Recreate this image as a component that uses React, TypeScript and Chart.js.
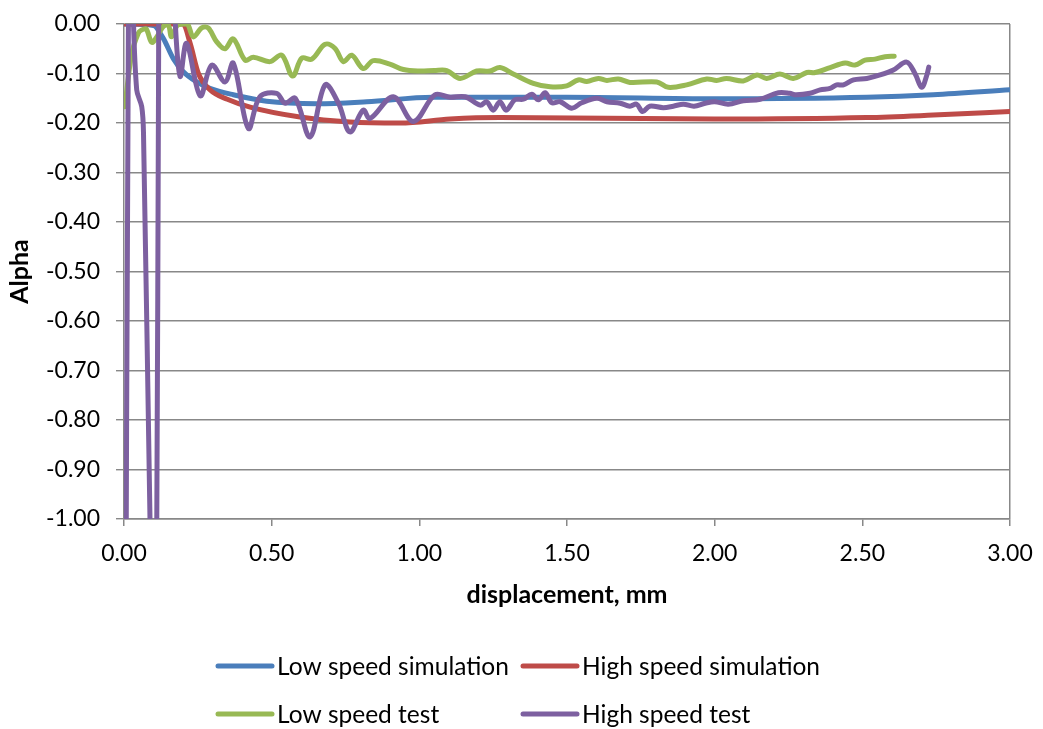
import React, { useEffect, useRef } from "react";
import { Chart, registerables } from "chart.js";
Chart.register(...registerables);

// ---------- data ----------
const seriesLabels = ["Low speed simulation", "High speed simulation", "Low speed test", "High speed test"];
const seriesColors = ["#4A7EBB", "#BE4B48", "#98B954", "#7D60A0"];

const lowSimX = [0, 0.1, 0.133, 0.167, 0.2, 0.246, 0.291, 0.37, 0.483, 0.653, 0.822, 1.047, 1.5, 2.0, 2.515, 2.74, 3.0];
const lowSimY = [0, -0.003, -0.029, -0.07, -0.096, -0.117, -0.13, -0.143, -0.156, -0.161, -0.157, -0.148, -0.148, -0.151, -0.148, -0.143, -0.133];

const highSimX = [0, 0.2, 0.224, 0.252, 0.291, 0.35, 0.427, 0.596, 0.765, 0.935, 1.104, 1.273, 2.0, 2.515, 2.74, 3.0];
const highSimY = [0, 0, -0.039, -0.1, -0.133, -0.152, -0.168, -0.188, -0.198, -0.2, -0.192, -0.189, -0.192, -0.189, -0.184, -0.177];

const lowTestX = [0.003, 0.026, 0.048, 0.06, 0.075, 0.094, 0.111, 0.133, 0.15, 0.161, 0.18, 0.2, 0.215, 0.235, 0.263, 0.285, 0.314, 0.342, 0.37, 0.41, 0.438, 0.494, 0.534, 0.571, 0.602, 0.636, 0.681, 0.714, 0.743, 0.771, 0.81, 0.844, 0.9, 0.946, 1.0, 1.05, 1.093, 1.138, 1.194, 1.239, 1.273, 1.318, 1.386, 1.443, 1.499, 1.538, 1.567, 1.606, 1.635, 1.674, 1.713, 1.804, 1.843, 1.905, 1.973, 2.007, 2.04, 2.097, 2.143, 2.176, 2.221, 2.266, 2.312, 2.34, 2.391, 2.442, 2.475, 2.509, 2.543, 2.577, 2.608];
const lowTestY = [-0.167, -0.06, -0.019, -0.012, -0.01, -0.037, -0.026, -0.005, -0.002, -0.026, -0.003, 0, 0, -0.026, -0.008, -0.008, -0.036, -0.05, -0.03, -0.073, -0.067, -0.076, -0.063, -0.105, -0.069, -0.071, -0.041, -0.049, -0.076, -0.063, -0.09, -0.074, -0.081, -0.092, -0.095, -0.094, -0.094, -0.11, -0.095, -0.095, -0.088, -0.101, -0.12, -0.127, -0.125, -0.113, -0.116, -0.11, -0.114, -0.111, -0.118, -0.117, -0.128, -0.123, -0.111, -0.114, -0.11, -0.115, -0.103, -0.11, -0.101, -0.11, -0.098, -0.098, -0.088, -0.079, -0.083, -0.073, -0.071, -0.066, -0.065];

const highTestX = [0.006, 0.018, 0.03, 0.043, 0.06, 0.066, 0.088, 0.1, 0.111, 0.117, 0.125, 0.15, 0.172, 0.19, 0.212, 0.258, 0.297, 0.342, 0.37, 0.421, 0.46, 0.517, 0.545, 0.58, 0.63, 0.681, 0.726, 0.765, 0.81, 0.833, 0.912, 0.98, 1.053, 1.104, 1.155, 1.206, 1.228, 1.25, 1.273, 1.294, 1.324, 1.352, 1.381, 1.403, 1.426, 1.448, 1.477, 1.516, 1.55, 1.601, 1.635, 1.68, 1.713, 1.736, 1.756, 1.78, 1.826, 1.86, 1.894, 1.93, 1.968, 2.0, 2.046, 2.097, 2.154, 2.216, 2.254, 2.276, 2.323, 2.357, 2.391, 2.413, 2.436, 2.47, 2.515, 2.56, 2.605, 2.65, 2.679, 2.701, 2.718, 2.725];
const highTestY = [-1.3, 0.4, 0.05, -0.133, -0.167, -0.22, -1.0, -1.35, -1.0, -0.1, 0.3, 0.3, 0.02, -0.106, -0.039, -0.145, -0.083, -0.117, -0.079, -0.211, -0.147, -0.14, -0.16, -0.15, -0.228, -0.123, -0.16, -0.218, -0.174, -0.191, -0.147, -0.197, -0.143, -0.148, -0.147, -0.164, -0.157, -0.174, -0.157, -0.174, -0.153, -0.152, -0.142, -0.153, -0.139, -0.159, -0.157, -0.17, -0.159, -0.15, -0.157, -0.16, -0.166, -0.162, -0.177, -0.166, -0.169, -0.166, -0.162, -0.166, -0.16, -0.157, -0.162, -0.155, -0.152, -0.139, -0.14, -0.143, -0.14, -0.133, -0.13, -0.123, -0.123, -0.113, -0.11, -0.103, -0.093, -0.077, -0.101, -0.128, -0.104, -0.087];

const xMin = 0, xMax = 3, xStep = 0.5;
const yMin = -1, yMax = 0, yStep = 0.1;
const xTitle = "displacement, mm";
const yTitle = "Alpha";

const FONT = "Lato";
const GRID = "#888888";

function pts(xs: number[], ys: number[]) {
  return xs.map((x, i) => ({ x, y: ys[i] }));
}

export default function App() {
  const ref = useRef<HTMLCanvasElement>(null);
  useEffect(() => {
    if (!ref.current) return;
    const legendPlugin = {
      id: "customLegend",
      afterDraw(chart: any) {
        const ctx = chart.ctx as CanvasRenderingContext2D;
        const items = [
          { i: 0, x: 218, y: 666 },
          { i: 1, x: 523, y: 666 },
          { i: 2, x: 218, y: 714 },
          { i: 3, x: 523, y: 714 },
        ];
        ctx.save();
        ctx.font = `24.5px ${FONT}`;
        ctx.textBaseline = "middle";
        ctx.textAlign = "left";
        items.forEach((it) => {
          const ds = chart.data.datasets[it.i];
          ctx.strokeStyle = ds.borderColor;
          ctx.lineWidth = 5;
          ctx.lineCap = "round";
          ctx.beginPath();
          ctx.moveTo(it.x, it.y);
          ctx.lineTo(it.x + 54, it.y);
          ctx.stroke();
          ctx.fillStyle = "#000";
          ctx.fillText(ds.label, it.x + 59, it.y + 1);
        });
        ctx.restore();
      },
    };

    const mk = (i: number, xs: number[], ys: number[], sim: boolean, order: number) => ({
      label: seriesLabels[i],
      data: pts(xs, ys),
      borderColor: seriesColors[i],
      backgroundColor: seriesColors[i],
      borderWidth: 5,
      showLine: true,
      pointRadius: 0,
      pointHoverRadius: 0,
      tension: sim ? 0 : 0.35,
      cubicInterpolationMode: sim ? "monotone" : "default",
      clip: 0,
      order,
      borderCapStyle: "round",
      borderJoinStyle: "round",
    });

    const chart = new Chart(ref.current, {
      type: "scatter",
      data: {
        datasets: [
          mk(0, lowSimX, lowSimY, true, 4),
          mk(1, highSimX, highSimY, true, 3),
          mk(2, lowTestX, lowTestY, false, 2),
          mk(3, highTestX, highTestY, false, 1),
        ] as any,
      },
      options: {
        responsive: false,
        animation: false,
        events: [],
        layout: { padding: { top: 24, right: 33, bottom: 110, left: 0 } },
        plugins: { legend: { display: false }, tooltip: { enabled: false } },
        scales: {
          x: {
            type: "linear",
            min: xMin,
            max: xMax,
            afterFit: (s: any) => { s.height = 100; s.paddingLeft = 0; s.paddingRight = 0; },
            ticks: {
              stepSize: xStep,
              color: "#000",
              font: { family: FONT, size: 23 },
              padding: 14,
              maxRotation: 0,
              callback: (v: any) => Number(v).toFixed(2),
            },
            grid: {
              color: (c: any) => (c.tick && Math.abs(c.tick.value - xMax) < 1e-9 ? GRID : "rgba(0,0,0,0)"),
              tickColor: GRID,
              tickLength: 7,
              lineWidth: 1.5,
            },
            border: { color: GRID, width: 1.5 },
            title: {
              display: true,
              text: xTitle,
              color: "#000",
              font: { family: FONT, size: 25, weight: "bold" },
              padding: { top: 0, bottom: 9 },
            },
          },
          y: {
            type: "linear",
            min: yMin,
            max: yMax,
            afterFit: (s: any) => { s.width = 124; s.paddingTop = 0; s.paddingBottom = 0; },
            ticks: {
              stepSize: yStep,
              color: "#000",
              font: { family: FONT, size: 23 },
              padding: 16,
              callback: (v: any) => (Math.abs(Number(v)) < 1e-9 ? "0.00" : Number(v).toFixed(2)),
            },
            grid: { color: GRID, tickColor: GRID, tickLength: 8, lineWidth: 1.4 },
            border: { color: GRID, width: 1.5 },
            title: {
              display: true,
              text: yTitle,
              color: "#000",
              font: { family: FONT, size: 25, weight: "bold" },
              padding: { top: 5, bottom: 0 },
            },
          },
        },
      } as any,
      plugins: [legendPlugin],
    });
    return () => chart.destroy();
  }, []);

  return (
    <div style={{ position: "absolute", left: 0, top: 0, width: 1043, height: 729, background: "#fff" }}>
      <canvas ref={ref} width={1043} height={729} style={{ display: "block" }} />
    </div>
  );
}
